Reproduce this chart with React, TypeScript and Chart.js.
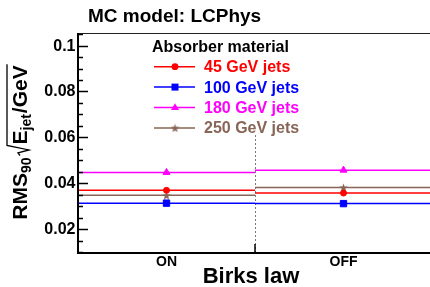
import React, { useEffect, useRef } from 'react';
import { Chart, registerables } from 'chart.js';

Chart.register(...registerables);

// ---- data ----
const categories = ['ON', 'OFF'];
const seriesLabels = ['45 GeV jets', '100 GeV jets', '180 GeV jets', '250 GeV jets'];
const jets45 = [0.0369, 0.0357];
const jets100 = [0.0313, 0.0311];
const jets180 = [0.0447, 0.0457];
const jets250 = [0.0347, 0.0381];
const yTickValues = [0.02, 0.04, 0.06, 0.08, 0.1];
const yTickLabels = ['0.02', '0.04', '0.06', '0.08', '0.1'];
const titleText = 'MC model: LCPhys';
const xTitleText = 'Birks law';
const legendHeader = 'Absorber material';

// ---- styles ----
const seriesValues = [jets45, jets100, jets180, jets250];
const colors = ['#ff0000', '#0000ff', '#ff00ff', '#876657'];
const markerKinds = ['circle', 'rect', 'triangle', 'star'];
const FONT = '"Liberation Sans", Arial, Helvetica, sans-serif';

function makeStar(color: string, size: number) {
  const c = document.createElement('canvas');
  c.width = size;
  c.height = size;
  const g = c.getContext('2d')!;
  const cx = size / 2, cy = size / 2 + 0.5;
  const R = size / 2, r = R * 0.42;
  g.beginPath();
  for (let k = 0; k < 10; k++) {
    const rad = (Math.PI / 5) * k - Math.PI / 2;
    const rr = k % 2 === 0 ? R : r;
    const px = cx + Math.cos(rad) * rr;
    const py = cy + Math.sin(rad) * rr;
    if (k === 0) g.moveTo(px, py);
    else g.lineTo(px, py);
  }
  g.closePath();
  g.fillStyle = color;
  g.fill();
  return c;
}

function drawLegendMarker(ctx: CanvasRenderingContext2D, kind: string, x: number, y: number, color: string, star: HTMLCanvasElement) {
  ctx.save();
  ctx.fillStyle = color;
  ctx.strokeStyle = color;
  ctx.lineWidth = 1;
  if (kind === 'circle') {
    ctx.beginPath();
    ctx.arc(x, y, 3.4, 0, Math.PI * 2);
    ctx.fill();
  } else if (kind === 'rect') {
    ctx.fillRect(x - 3.5, y - 3.5, 7, 7);
  } else if (kind === 'triangle') {
    ctx.beginPath();
    ctx.moveTo(x, y - 4.2);
    ctx.lineTo(x + 4, y + 2.6);
    ctx.lineTo(x - 4, y + 2.6);
    ctx.closePath();
    ctx.fill();
  } else {
    ctx.drawImage(star, x - star.width / 2, y - star.height / 2);
  }
  ctx.restore();
}

export default function App() {
  const ref = useRef<HTMLCanvasElement | null>(null);

  useEffect(() => {
    document.body.style.margin = '0';
    document.body.style.overflow = 'hidden';
    const canvas = ref.current!;
    const star = makeStar(colors[3], 9);

    const datasets: any[] = [];
    seriesValues.forEach((vals, i) => {
      const lineData: any[] = [];
      vals.forEach((v, j) => {
        lineData.push({ x: j, y: v }, { x: j + 1, y: v }, { x: j + 1, y: null });
      });
      datasets.push({
        label: seriesLabels[i],
        data: lineData,
        borderColor: colors[i],
        borderWidth: 1.5,
        pointRadius: 0,
        spanGaps: false,
        fill: false,
        order: 2,
      });
    });
    seriesValues.forEach((vals, i) => {
      const kind = markerKinds[i];
      datasets.push({
        label: seriesLabels[i] + ' markers',
        data: vals.map((v, j) => ({ x: j + 0.5, y: v })),
        showLine: false,
        pointStyle: kind === 'star' ? star : kind,
        pointRadius: kind === 'circle' ? 3 : kind === 'rect' ? 4.5 : kind === 'triangle' ? 4 : 4.5,
        pointBorderWidth: 1,
        backgroundColor: colors[i],
        borderColor: colors[i],
        order: 1,
      });
    });

    const decor = {
      id: 'rootDecor',
      beforeDatasetsDraw(chart: any) {
        const ctx: CanvasRenderingContext2D = chart.ctx;
        const xs = chart.scales.x, ys = chart.scales.y;
        const { left, right, top, bottom } = chart.chartArea;
        ctx.save();
        // dotted divider between bins
        ctx.strokeStyle = '#777';
        ctx.lineWidth = 1;
        ctx.setLineDash([2, 2]);
        const xd = Math.round(xs.getPixelForValue(1)) + 0.5;
        ctx.beginPath();
        ctx.moveTo(xd, ys.getPixelForValue(0.061));
        ctx.lineTo(xd, bottom);
        ctx.stroke();
        ctx.setLineDash([]);
        ctx.restore();
      },
      afterDraw(chart: any) {
        const ctx: CanvasRenderingContext2D = chart.ctx;
        const xs = chart.scales.x, ys = chart.scales.y;
        const { left, right, top, bottom } = chart.chartArea;
        ctx.save();
        // frame
        ctx.strokeStyle = '#222';
        ctx.lineWidth = 1;
        ctx.beginPath();
        ctx.moveTo(left, top + 0.5);
        ctx.lineTo(right, top + 0.5);
        ctx.stroke();
        ctx.strokeStyle = '#000';
        ctx.lineWidth = 2;
        ctx.beginPath();
        ctx.moveTo(left, top);
        ctx.lineTo(left, bottom + 1);
        ctx.lineTo(right, bottom + 1);
        ctx.stroke();

        // y ticks
        ctx.lineWidth = 1.5;
        for (let k = 0; k <= 19; k++) {
          const v = 0.01 + k * 0.005;
          if (v > ys.max + 1e-9) break;
          const py = Math.round(ys.getPixelForValue(v)) + 0.5;
          const major = yTickValues.some((t) => Math.abs(t - v) < 1e-9);
          ctx.beginPath();
          ctx.moveTo(left, py);
          ctx.lineTo(left + (major ? 10 : 5), py);
          ctx.stroke();
        }
        // x ticks at bin edges
        for (let j = 1; j < categories.length; j++) {
          const px = xs.getPixelForValue(j);
          ctx.beginPath();
          ctx.moveTo(px, bottom);
          ctx.lineTo(px, bottom - 8);
          ctx.stroke();
        }

        // y tick labels
        ctx.fillStyle = '#000';
        ctx.font = `bold 16px ${FONT}`;
        ctx.textAlign = 'right';
        ctx.textBaseline = 'middle';
        yTickValues.forEach((v, k) => {
          ctx.fillText(yTickLabels[k], 75.5, ys.getPixelForValue(v) + 0.5);
        });

        // x category labels
        ctx.font = `bold 14px ${FONT}`;
        ctx.textAlign = 'center';
        ctx.textBaseline = 'alphabetic';
        categories.forEach((c, j) => {
          ctx.fillText(c, xs.getPixelForValue(j + 0.5), 266);
        });

        // x title
        ctx.font = `bold 22px ${FONT}`;
        ctx.fillText(xTitleText, 251, 283);

        // title
        ctx.textAlign = 'left';
        ctx.font = `bold 19px ${FONT}`;
        ctx.fillText(titleText, 88, 22);

        // y title (rotated)
        const big = `bold 21px ${FONT}`;
        const small = `bold 14px ${FONT}`;
        ctx.font = big;
        const wRMS = ctx.measureText('RMS').width;
        const wE = ctx.measureText('E').width;
        const wGeV = ctx.measureText('/GeV').width;
        ctx.font = small;
        const w90 = ctx.measureText('90').width;
        const wJet = ctx.measureText('jet').width;
        const radW = 11;
        const total = wRMS + w90 + 2 + radW + wE + wJet + 1 + wGeV;
        ctx.translate(27, (top + bottom) / 2);
        ctx.rotate(-Math.PI / 2);
        let u = -total / 2;
        ctx.font = big;
        ctx.fillText('RMS', u, 0);
        u += wRMS;
        ctx.font = small;
        ctx.fillText('90', u, 4);
        u += w90 + 2;
        const radStart = u;
        u += radW;
        ctx.font = big;
        ctx.fillText('E', u, 0);
        u += wE;
        ctx.font = small;
        ctx.fillText('jet', u, 4);
        u += wJet + 1;
        ctx.font = big;
        ctx.fillText('/GeV', u, 0);
        u += wGeV;
        ctx.strokeStyle = '#000';
        ctx.lineWidth = 1.3;
        ctx.beginPath();
        ctx.moveTo(radStart, -7);
        ctx.lineTo(radStart + 2.5, -9);
        ctx.lineTo(radStart + 5.5, 2);
        ctx.lineTo(radStart + 10, -20);
        ctx.lineTo(u + 1, -20);
        ctx.stroke();
        ctx.setTransform(1, 0, 0, 1, 0, 0);

        // legend
        ctx.textAlign = 'left';
        ctx.textBaseline = 'alphabetic';
        ctx.fillStyle = '#000';
        ctx.font = `bold 16px ${FONT}`;
        ctx.fillText(legendHeader, 152, 51.5);
        ctx.textBaseline = 'middle';
        seriesLabels.forEach((lab, i) => {
          const ly = 66.7 + i * 20.4;
          ctx.strokeStyle = colors[i];
          ctx.lineWidth = 1.5;
          ctx.beginPath();
          ctx.moveTo(154, ly);
          ctx.lineTo(195, ly);
          ctx.stroke();
          drawLegendMarker(ctx, markerKinds[i], 175, ly, colors[i], star);
          ctx.fillStyle = colors[i];
          ctx.fillText(lab, 204, ly + 1);
        });
        ctx.restore();
      },
    };

    const chart = new Chart(canvas, {
      type: 'line',
      data: { datasets },
      options: {
        animation: false,
        responsive: false,
        devicePixelRatio: 1,
        layout: { padding: { left: 78, right: 8, top: 33, bottom: 35 } },
        scales: {
          x: { type: 'linear', min: 0, max: categories.length, display: false },
          y: { type: 'linear', min: 0.01, max: 0.1055, display: false },
        },
        plugins: { legend: { display: false }, tooltip: { enabled: false } },
      },
      plugins: [decor],
    });
    return () => chart.destroy();
  }, []);

  return (
    <div style={{ position: 'fixed', left: 0, top: 0, width: 440, height: 287, background: '#fff' }}>
      <canvas ref={ref} width={440} height={287} style={{ width: 440, height: 287, display: 'block' }} />
    </div>
  );
}
